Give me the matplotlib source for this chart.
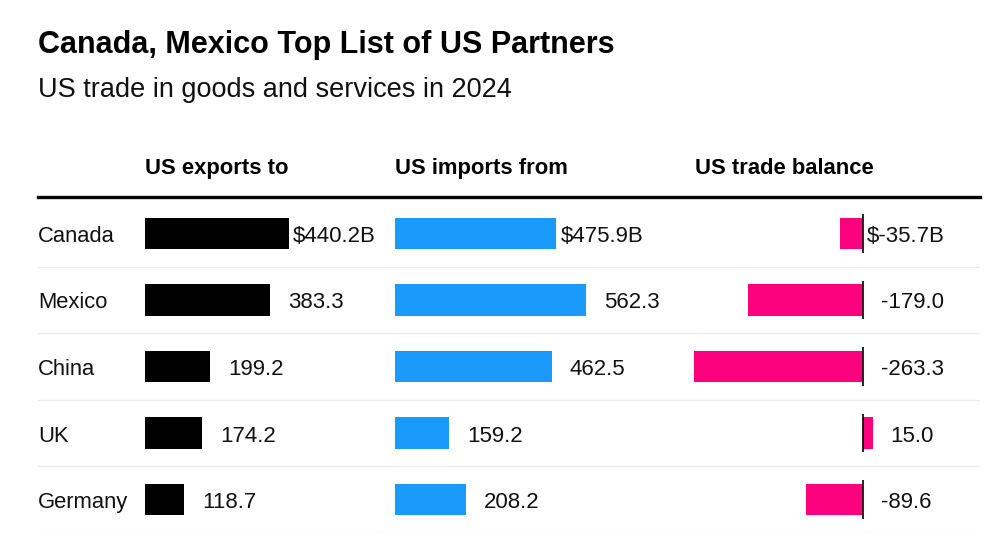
import numpy as np
import matplotlib
matplotlib.use("Agg")
import matplotlib.pyplot as plt

plt.rcParams['font.family'] = ['Liberation Sans', 'DejaVu Sans']

countries = ["Canada", "Mexico", "China", "UK", "Germany"]
exports = [440.2, 383.3, 199.2, 174.2, 118.7]
imports = [475.9, 562.3, 462.5, 159.2, 208.2]
balance = [-35.7, -179.0, -263.3, 15.0, -89.6]

headers = ["US exports to", "US imports from", "US trade balance"]
title = "Canada, Mexico Top List of US Partners"
subtitle = "US trade in goods and services in 2024"

BLACK = "#000000"
BLUE = "#1a9bfc"
PINK = "#fc007d"

W, H = 1000, 545
fig = plt.figure(figsize=(W / 100, H / 100), dpi=100)
fig.patch.set_facecolor("white")


def px_axes(left, top, width, height, z=1):
    ax = fig.add_axes([left / W, 1 - (top + height) / H, width / W, height / H], zorder=z)
    ax.set_facecolor("none")
    ax.axis("off")
    return ax


ROW_TOP, ROW_H = 200, 333
ypos = np.arange(len(countries))
row_px = ROW_H / len(countries)
bar_h = 0.47
base_drop = 8.5  # px from row centre down to the text baseline


def fmt(v, first):
    return f"${v:.1f}B" if first else f"{v:.1f}"


# background: row labels and separators
bg = px_axes(38, ROW_TOP, 942, ROW_H, z=0)
bg.set_xlim(0, 1)
bg.set_ylim(len(countries) - 0.5, -0.5)
for i, name in enumerate(countries):
    bg.text(0, i + base_drop / row_px, name, fontsize=15.8, va="baseline", ha="left", color="#111111")
for i in range(len(countries)):
    bg.axhline(i + 0.5, color="#ececec", lw=0.9)
bg.axhline(-0.5 - 3 / row_px, color="black", lw=2.4, clip_on=False)


def bar_panel(left, width, scale, values, color, xmin=0.0):
    ax = px_axes(left, ROW_TOP, width, ROW_H)
    ax.set_xlim(xmin, xmin + width / scale)
    ax.set_ylim(len(countries) - 0.5, -0.5)
    ax.barh(ypos, values, height=bar_h, color=color, linewidth=0)
    for i, v in enumerate(values):
        gap = 4 if i == 0 else 18
        ax.annotate(fmt(v, i == 0), xy=(max(v, 0), i), xytext=(gap * 0.72, -base_drop * 0.72),
                    textcoords="offset points", va="baseline", ha="left",
                    fontsize=16, color="#111111")
    return ax


bar_panel(145, 240, 0.327, exports, BLACK)
bar_panel(395, 290, 0.339, imports, BLUE)
axb = bar_panel(680, 300, 0.64, balance, PINK, xmin=-(863 - 680) / 0.64)
axb.vlines(np.zeros(len(countries)), ypos - 0.29, ypos + 0.29, color="black", lw=1.2)

# header row
for x, h in zip([145, 395, 695], headers):
    fig.text(x / W, 1 - 174 / H, h, fontsize=15.8, fontweight="bold", va="baseline", ha="left")

fig.text(38 / W, 1 - 53 / H, title, fontsize=22, fontweight="bold", va="baseline", ha="left")
fig.text(38 / W, 1 - 97 / H, subtitle, fontsize=19.5, va="baseline", ha="left", color="#111111")

fig.savefig("out.png", dpi=100, facecolor="white")
